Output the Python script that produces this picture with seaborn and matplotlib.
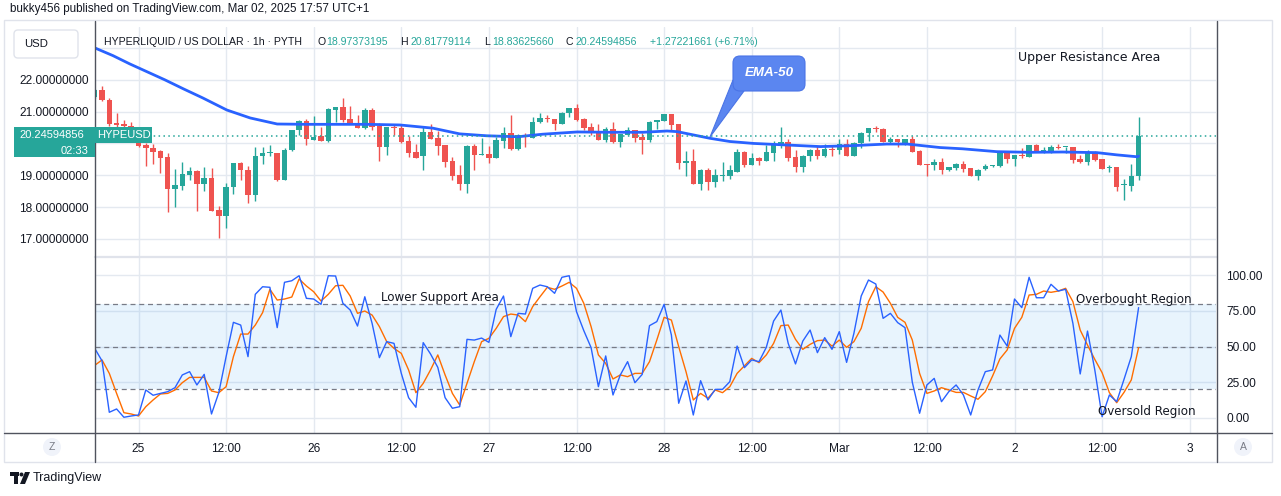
import numpy as np
import pandas as pd
import matplotlib
matplotlib.use("Agg")
import matplotlib.pyplot as plt
import seaborn as sns
from matplotlib.patches import Rectangle, FancyBboxPatch, Polygon, Circle
from matplotlib.transforms import IdentityTransform

# ---------------- data ----------------
first_hour = -6          # first candle: Feb 24 18:00 (hours relative to Feb 25 00:00)
open_ = [21.47, 21.68, 21.35, 20.65, 20.62, 20.56, 20.08, 19.95, 19.85, 19.76,
         19.56, 18.56, 18.67, 19.02, 19.13, 18.72, 18.91, 17.91, 17.73, 18.62,
         19.39, 19.16, 18.38, 19.59, 19.69, 19.70, 18.85, 19.78, 20.42, 20.71,
         20.12, 20.24, 20.08, 21.05, 21.15, 20.77, 20.64, 20.50, 21.05, 20.56,
         19.90, 20.53, 20.50, 20.08, 19.73, 19.59, 20.36, 20.17, 19.95, 19.45,
         19.01, 18.71, 19.92, 19.65, 19.67, 19.55, 20.09, 20.33, 19.81, 20.24,
         20.18, 20.66, 20.79, 20.77, 20.62, 20.95, 21.12, 20.77, 20.52, 20.39,
         20.11, 20.46, 20.03, 20.27, 20.42, 20.20, 20.11, 20.66, 20.71, 20.93,
         20.61, 19.37, 19.45, 18.73, 19.17, 18.79, 18.99, 18.99, 19.10, 19.73,
         19.32, 19.54, 19.46, 19.71, 19.95, 20.05, 19.57, 19.27, 19.59, 19.80,
         19.59, 19.83, 19.78, 19.98, 19.61, 20.00, 20.32, 20.49, 20.45, 20.05,
         20.14, 20.00, 20.13, 19.76, 19.35, 19.32, 19.42, 19.15, 19.24, 19.36,
         19.23, 18.96, 19.18, 19.29, 19.29, 19.69, 19.51, 19.64, 19.58, 19.95,
         19.77, 19.76, 19.89, 19.88, 19.89, 19.51, 19.40, 19.70, 19.51, 19.22,
         19.26, 18.69, 18.66, 18.97373195]
high_ = [21.72, 21.81, 21.42, 20.96, 20.74, 20.68, 20.22, 20.00, 19.97, 19.80,
         19.69, 19.19, 19.40, 19.25, 19.17, 19.25, 19.22, 18.03, 18.77, 19.39,
         19.40, 19.29, 19.89, 19.90, 19.95, 19.71, 19.85, 20.42, 20.74, 20.76,
         20.86, 20.53, 21.10, 21.16, 21.43, 21.18, 20.90, 21.11, 21.11, 20.63,
         20.53, 20.58, 20.60, 20.24, 19.98, 20.52, 20.61, 20.40, 19.96, 19.58,
         19.32, 19.95, 19.98, 20.16, 19.93, 20.21, 20.52, 20.90, 20.30, 20.34,
         20.83, 20.97, 20.90, 20.78, 21.00, 21.12, 21.24, 20.81, 20.64, 20.62,
         20.52, 20.68, 20.30, 20.52, 20.43, 20.32, 20.71, 20.75, 20.93, 20.94,
         20.62, 19.77, 19.83, 19.18, 19.22, 19.20, 19.43, 19.32, 19.83, 19.76,
         19.70, 19.58, 19.95, 20.08, 20.52, 20.14, 19.80, 19.64, 19.83, 19.92,
         19.98, 19.95, 20.14, 20.14, 20.03, 20.37, 20.50, 20.55, 20.49, 20.20,
         20.15, 20.14, 20.24, 19.80, 19.36, 19.51, 19.53, 19.26, 19.37, 19.45,
         19.24, 19.18, 19.36, 19.33, 19.70, 19.70, 19.65, 19.86, 19.96, 19.98,
         19.89, 19.95, 19.98, 19.90, 19.90, 19.64, 19.80, 19.76, 19.52, 19.32,
         19.27, 18.88, 19.36, 20.81779114]
low_ = [21.42, 21.33, 20.56, 20.35, 20.45, 20.05, 19.88, 19.30, 19.36, 19.06,
        17.83, 18.01, 18.54, 18.85, 17.86, 18.49, 17.88, 17.04, 17.35, 18.40,
        18.85, 18.12, 18.20, 19.35, 19.59, 18.83, 18.84, 19.75, 20.25, 19.95,
        20.11, 20.07, 20.05, 20.68, 20.66, 20.61, 20.49, 20.45, 20.42, 19.45,
        19.64, 20.25, 20.02, 19.58, 19.54, 19.17, 20.14, 19.65, 19.27, 18.85,
        18.54, 18.45, 19.15, 19.64, 19.37, 19.54, 19.87, 19.80, 19.80, 19.90,
        20.17, 20.65, 20.66, 20.42, 20.61, 20.84, 20.69, 20.42, 20.27, 20.10,
        20.03, 20.02, 19.90, 20.26, 20.03, 19.68, 20.03, 20.46, 20.70, 20.42,
        19.20, 18.96, 18.73, 18.54, 18.54, 18.64, 18.83, 18.88, 19.10, 19.27,
        19.31, 19.32, 19.45, 19.46, 19.86, 19.46, 19.11, 19.11, 19.46, 19.51,
        19.58, 19.61, 19.67, 19.60, 19.60, 19.87, 20.08, 20.37, 20.05, 20.00,
        19.90, 19.96, 19.72, 19.31, 18.98, 19.15, 19.04, 19.12, 19.15, 19.10,
        18.96, 18.85, 19.17, 19.25, 19.27, 19.38, 19.29, 19.53, 19.57, 19.73,
        19.71, 19.71, 19.83, 19.71, 19.39, 19.39, 19.32, 19.45, 19.21, 19.11,
        18.51, 18.23, 18.51, 18.83625660]
close_ = [21.68, 21.35, 20.61, 20.59, 20.56, 20.10, 19.93, 19.85, 19.74, 19.55,
          18.56, 18.68, 19.03, 19.13, 18.72, 18.90, 17.89, 17.73, 18.62, 19.39,
          19.15, 18.38, 19.60, 19.70, 19.71, 18.85, 19.80, 20.42, 20.69, 20.13,
          20.20, 20.08, 21.08, 21.15, 20.74, 20.62, 20.50, 21.05, 20.53, 19.90,
          20.52, 20.50, 20.05, 19.71, 19.55, 20.36, 20.15, 19.93, 19.43, 18.99,
          18.71, 19.92, 19.65, 19.67, 19.55, 20.11, 20.33, 19.81, 20.27, 20.20,
          20.68, 20.80, 20.76, 20.62, 20.97, 21.12, 20.74, 20.50, 20.37, 20.11,
          20.46, 20.03, 20.29, 20.42, 20.18, 20.11, 20.68, 20.74, 20.93, 20.58,
          19.37, 19.45, 18.73, 19.17, 18.79, 19.00, 19.01, 19.15, 19.73, 19.32,
          19.54, 19.46, 19.73, 19.95, 20.05, 19.54, 19.27, 19.61, 19.80, 19.59,
          19.83, 19.78, 19.98, 19.61, 20.02, 20.33, 20.49, 20.45, 20.06, 20.13,
          20.03, 20.13, 19.73, 19.32, 19.32, 19.42, 19.15, 19.25, 19.36, 19.21,
          18.96, 19.17, 19.29, 19.32, 19.69, 19.51, 19.64, 19.61, 19.95, 19.76,
          19.80, 19.89, 19.84, 19.90, 19.48, 19.40, 19.70, 19.48, 19.21, 19.25,
          18.64, 18.71, 18.98, 20.24594856]

ema_hours = [-5.96, -3.5, -1.2, 1.2, 3.6, 6.2, 8.8, 12.1, 15.3, 19.0, 23.1, 26.6,
             31.3, 35.8, 40.3, 44.0, 47.7, 52.0, 55.4, 60.1, 64.6, 69.1, 72.4, 73.8,
             78.3, 81.0, 84.2, 88.8, 93.4, 97.9, 102.5, 105.3, 109.8, 112.9, 117.6,
             122.1, 126.6, 131.3, 134.0, 136.8, 137.0]
ema_values = [23.00, 22.76, 22.50, 22.25, 22.00, 21.71, 21.43, 21.05, 20.80, 20.61,
              20.60, 20.60, 20.60, 20.58, 20.48, 20.30, 20.24, 20.21, 20.29, 20.36,
              20.35, 20.35, 20.39, 20.37, 20.16, 20.06, 20.00, 19.95, 19.90, 19.93,
              19.98, 19.98, 19.87, 19.83, 19.74, 19.72, 19.73, 19.71, 19.64, 19.58,
              19.60]

stoch_k = [48.7, 40.0, 4.0, 6.3, 0.5, 1.4, 2.1, 19.6, 15.9, 17.2,
           18.4, 21.2, 30.1, 32.4, 23.1, 30.5, 2.8, 17.7, 42.9, 66.9,
           65.0, 42.9, 86.5, 91.8, 91.4, 63.2, 94.9, 96.0, 99.5, 83.7,
           83.2, 79.5, 99.5, 99.3, 80.2, 75.5, 64.3, 84.8, 66.2, 42.2,
           53.4, 52.2, 31.2, 14.2, 7.5, 52.7, 44.8, 35.4, 14.2, 6.8,
           7.9, 55.0, 54.5, 55.9, 52.9, 76.0, 85.3, 56.9, 73.2, 72.7,
           90.7, 93.0, 91.8, 87.2, 98.4, 99.5, 74.4, 61.1, 49.2, 21.9,
           43.4, 16.1, 30.1, 39.4, 24.7, 30.5, 64.6, 67.4, 79.5, 58.0,
           10.3, 25.9, 2.1, 26.1, 12.6, 20.0, 20.0, 25.4, 50.3, 35.2,
           40.6, 39.4, 49.4, 67.8, 75.5, 52.2, 37.8, 53.8, 61.5, 45.7,
           56.2, 48.0, 60.4, 38.9, 59.2, 85.3, 96.5, 93.7, 69.7, 73.2,
           66.7, 63.2, 25.0, 3.3, 23.1, 27.7, 11.4, 18.4, 23.1, 16.1,
           2.1, 19.6, 32.4, 33.6, 58.0, 50.3, 83.2, 77.2, 98.4, 84.1,
           84.1, 93.5, 88.8, 90.0, 66.2, 30.8, 60.8, 33.6, 0.9, 16.1,
           11.4, 27.0, 42.9, 77.2]
stoch_d = [36.8, 40.6, 31.2, 17.2, 3.7, 2.8, 1.4, 7.9, 12.6, 16.8,
           17.2, 19.6, 24.7, 28.4, 28.4, 28.4, 18.9, 17.7, 21.9, 42.9,
           58.7, 58.7, 65.0, 73.7, 90.0, 82.5, 83.2, 84.6, 97.2, 92.3,
           88.3, 81.8, 86.5, 92.5, 92.8, 85.3, 73.2, 74.8, 72.0, 63.9,
           53.4, 48.7, 45.2, 33.6, 17.7, 24.2, 33.6, 44.1, 30.1, 17.2,
           9.1, 24.2, 39.4, 53.4, 55.7, 62.7, 70.9, 72.7, 72.0, 67.4,
           77.9, 84.8, 91.4, 90.0, 92.3, 94.9, 90.7, 80.2, 63.9, 44.1,
           38.2, 27.3, 30.1, 28.9, 31.2, 31.2, 39.4, 54.5, 70.4, 68.5,
           49.9, 32.4, 12.6, 17.2, 13.8, 19.6, 17.7, 21.9, 31.2, 36.4,
           41.7, 38.7, 44.1, 52.2, 64.6, 65.0, 55.0, 48.0, 51.5, 54.1,
           54.5, 50.3, 54.5, 49.4, 53.4, 62.7, 81.4, 91.8, 88.1, 80.2,
           70.4, 66.9, 54.5, 31.2, 17.2, 18.9, 21.2, 19.6, 17.9, 17.9,
           15.4, 13.1, 18.4, 29.4, 41.3, 47.6, 62.7, 70.4, 86.0, 86.5,
           88.8, 87.9, 88.8, 90.7, 81.4, 61.5, 51.0, 41.0, 31.7, 17.7,
           10.7, 17.9, 26.6, 49.2]

time_ticks = [0, 12, 24, 36, 48, 60, 72, 84, 96, 108, 120, 132, 144]
time_labels = ["25", "12:00", "26", "12:00", "27", "12:00", "28", "12:00",
               "Mar", "12:00", "2", "12:00", "3"]
price_ticks = [17, 18, 19, 20, 21, 22, 23]
# 20.00000000 and 23.00000000 are hidden behind the price / currency labels
price_labels = ["17.00000000", "18.00000000", "19.00000000", "",
                "21.00000000", "22.00000000", ""]
stoch_ticks = [0, 25, 50, 75, 100]
stoch_labels = ["0.00", "25.00", "50.00", "75.00", "100.00"]
last_price = 20.24594856

# ---------------- styling ----------------
W, H = 1281, 496
sns.set_theme(style="white")
plt.rcParams["font.family"] = ["Liberation Sans", "DejaVu Sans"]
TXT = "#131722"
GRID = "#e4e9f0"
UP, DN = "#26a69a", "#ef5350"

fig = plt.figure(figsize=(W / 100, H / 100), dpi=100)
fig.patch.set_facecolor("white")
ID = IdentityTransform()


def box(x0, y0, x1, y1):
    return [x0 / W, 1 - y1 / H, (x1 - x0) / W, (y1 - y0) / H]


def P(x, y):
    return (x, H - y)


ax_p = fig.add_axes(box(95, 27, 1216, 256))
ax_s = fig.add_axes(box(95, 257, 1216, 433))

hours = np.arange(len(close_)) + first_hour
df = pd.DataFrame({"hour": hours, "open": open_, "high": high_,
                   "low": low_, "close": close_})
df["up"] = df["close"] >= df["open"]
cols = np.where(df["up"], UP, DN)

xlim = ((95 - 138.5) / 7.3, (1216 - 138.5) / 7.3)

# ---- price pane ----
for ax in (ax_p, ax_s):
    ax.set_facecolor("white")
    for s in ax.spines.values():
        s.set_visible(False)
    for t in time_ticks:
        ax.axvline(t, color=GRID, lw=1, zorder=0)
    ax.set_xlim(*xlim)

for p in price_ticks:
    ax_p.axhline(p, color=GRID, lw=1, zorder=0)
ax_p.set_ylim(16.46, 23.66)
ax_p.vlines(df["hour"], df["low"], df["high"], colors=cols, lw=1, zorder=2)
body = np.maximum((df["close"] - df["open"]).abs(), 0.025)
ax_p.bar(df["hour"], body, bottom=np.minimum(df["open"], df["close"]),
         width=0.74, color=cols, lw=0, zorder=3)
sns.lineplot(x=ema_hours, y=ema_values, ax=ax_p, color="#2962ff", lw=2.0,
             legend=False, zorder=4)
ax_p.axhline(last_price, color=UP, ls=(0, (1, 2.2)), lw=1.1, zorder=5)
ax_p.set_xticks([])
ax_p.set_yticks(price_ticks)
ax_p.set_yticklabels(price_labels, fontsize=8.6, color=TXT)
ax_p.tick_params(axis="y", length=0, pad=4.5)
ax_p.set_xlabel("")
ax_p.set_ylabel("")

# ---- stoch pane ----
for v in stoch_ticks:
    ax_s.axhline(v, color=GRID, lw=1, zorder=0)
ax_s.axhspan(20, 80, color="#2196f3", alpha=0.1, lw=0, zorder=1)
for v in (80, 50, 20):
    ax_s.axhline(v, color="#787b86", ls=(0, (4, 3)), lw=0.9, zorder=2)
sns.lineplot(x=hours, y=stoch_k, ax=ax_s, color="#2962ff", lw=1.0,
             legend=False, zorder=4)
sns.lineplot(x=hours, y=stoch_d, ax=ax_s, color="#ff6d00", lw=1.0,
             legend=False, zorder=3)
ax_s.set_ylim(-10.5, 112.6)
ax_s.yaxis.tick_right()
ax_s.set_yticks(stoch_ticks)
ax_s.set_yticklabels(stoch_labels, fontsize=8.6, color=TXT)
ax_s.tick_params(axis="y", length=0, pad=7.5)
ax_s.set_xticks(time_ticks)
ax_s.set_xticklabels(time_labels, fontsize=8.6, color=TXT)
ax_s.tick_params(axis="x", length=0, pad=7)
ax_s.set_xlabel("")
ax_s.set_ylabel("")

# ---------------- frame lines ----------------
def hline(x0, x1, y, c, lw=1, z=6):
    fig.add_artist(plt.Line2D([x0, x1], [H - y, H - y], transform=ID, color=c, lw=lw, zorder=z))


def vline(x, y0, y1, c, lw=1, z=6):
    fig.add_artist(plt.Line2D([x, x], [H - y0, H - y1], transform=ID, color=c, lw=lw, zorder=z))


fig.add_artist(Rectangle(P(4, 462), 1268, 442, transform=ID, fill=False,
                         ec="#e0e3eb", lw=1, zorder=1))
hline(95, 1217, 256.5, "#e0e3eb", lw=1.6)
hline(4, 1272, 433, "#50535e", lw=1)
vline(95, 21, 462, "#50535e", lw=1)
vline(1217, 21, 462, "#50535e", lw=1)

# ---------------- texts ----------------
fig.text(10 / W, 1 - 9 / H, "bukky456 published on TradingView.com, Mar 02, 2025 17:57 UTC+1",
         fontsize=8.4, color=TXT, va="center", ha="left")

fig.add_artist(FancyBboxPatch(P(14, 58), 64, 28, boxstyle="round,pad=0,rounding_size=4",
                              transform=ID, fc="white", ec="#e0e3eb", lw=1, zorder=7))
fig.text(24 / W, 1 - 44 / H, "USD", fontsize=8.2, color=TXT, va="center", ha="left", zorder=8)

hy = 1 - 42 / H
pieces = [(104, "HYPERLIQUID / US DOLLAR · 1h · PYTH", TXT),
          (317, "O", TXT), (326, "18.97373195", UP),
          (400, "H", TXT), (410, "20.81779114", UP),
          (484, "L", TXT), (492, "18.83625660", UP),
          (566, "C", TXT), (575, "20.24594856", UP),
          (650, "+1.27221661 (+6.71%)", UP)]
for x, s, c in pieces:
    fig.text(x / W, hy, s, fontsize=7.6, color=c, va="center", ha="left", zorder=8)

# last price label on the left scale
fig.add_artist(Rectangle(P(14, 157), 81, 30, transform=ID, fc=UP, ec="none", zorder=9))
fig.add_artist(Rectangle(P(95, 143), 57, 16, transform=ID, fc=UP, ec="none", zorder=9))
fig.text(19 / W, 1 - 134.5 / H, "20.24594856", fontsize=8.0, color="white",
         va="center", ha="left", zorder=10)
fig.text(89 / W, 1 - 150.5 / H, "02:33", fontsize=8.0, color="white",
         va="center", ha="right", zorder=10)
fig.text(124 / W, 1 - 134.5 / H, "HYPEUSD", fontsize=8.0, color="white",
         va="center", ha="center", zorder=10)

# EMA-50 callout
fig.add_artist(Polygon([P(733, 80), P(744, 91), P(710, 137)], closed=True,
                       transform=ID, fc="#5b86f0", ec="#4a74e6", lw=0.8, zorder=7))
fig.add_artist(FancyBboxPatch(P(733, 91), 72, 35, boxstyle="round,pad=0,rounding_size=7",
                              transform=ID, fc="#5b86f0", ec="#4a74e6", lw=0.8, zorder=7))
fig.text(769 / W, 1 - 73 / H, "EMA-50", fontsize=9.6, color="white", fontweight="bold",
         fontstyle="italic", va="center", ha="center", zorder=8)

ann = dict(color=TXT, va="center", ha="left", zorder=8, family=["DejaVu Sans"])
fig.text(1018 / W, 1 - 57 / H, "Upper Resistance Area", fontsize=9.0, **ann)
fig.text(381 / W, 1 - 298 / H, "Lower Support Area", fontsize=8.6, **ann)
fig.text(1076 / W, 1 - 299 / H, "Overbought Region", fontsize=8.6, **ann)
fig.text(1098 / W, 1 - 412 / H, "Oversold Region", fontsize=8.6, **ann)

# Z / A buttons in time axis
for cx, s in ((52, "Z"), (1243, "A")):
    fig.add_artist(Circle(P(cx, 447), 9, transform=ID, fc="#f0f3fa", ec="none", zorder=7))
    fig.text(cx / W, 1 - 447 / H, s, fontsize=7.5, color="#787b86",
             va="center", ha="center", zorder=8)

# footer logo
fig.add_artist(Rectangle(P(10, 476), 9, 4, transform=ID, fc=TXT, ec="none", zorder=8))
fig.add_artist(Rectangle(P(13.5, 484), 4, 11, transform=ID, fc=TXT, ec="none", zorder=8))
fig.add_artist(Circle(P(21.5, 474.5), 2.0, transform=ID, fc=TXT, ec="none", zorder=8))
fig.add_artist(Polygon([P(25, 472), P(30, 472), P(25, 484), P(20, 484)], closed=True,
                       transform=ID, fc=TXT, ec="none", zorder=8))
fig.text(33 / W, 1 - 478 / H, "TradingView", fontsize=9.0, color=TXT,
         va="center", ha="left", zorder=8)

fig.savefig("out.png", dpi=100, facecolor="white")
